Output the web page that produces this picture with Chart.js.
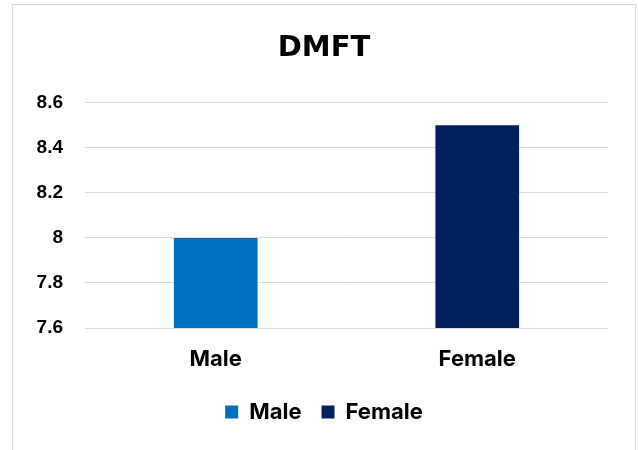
<!DOCTYPE html>
<html>
<head>
<meta charset="utf-8">
<script src="https://cdn.jsdelivr.net/npm/chart.js@4"></script>
<style>
  html, body { margin: 0; padding: 0; background: #fff; }
  #wrap { width: 638px; height: 450px; }
</style>
</head>
<body>
<div id="wrap"><canvas id="dmft-chart" width="638" height="450"></canvas></div>
<script>
// data
const categories = ["Male", "Female"];
const maleValues = [8, null];
const femaleValues = [null, 8.5];
const yTicks = [7.6, 7.8, 8, 8.2, 8.4, 8.6];

// frame round the chart, like the office export
const framePlugin = {
    id: "frame",
    beforeDraw(chart) {
        const ctx = chart.ctx;
        ctx.save();
        ctx.fillStyle = "#ffffff";
        ctx.fillRect(0, 0, chart.width, chart.height);
        ctx.strokeStyle = "#d9d9d9";
        ctx.lineWidth = 1;
        ctx.strokeRect(12.5, 4.5, 623, 470);
        ctx.restore();
    }
};

const labelFont = { family: "Inter, 'Noto Sans', sans-serif", size: 22, weight: "bold" };

const config = {
    type: "bar",
    data: {
        labels: categories,
        datasets: [
            {
                label: "Male",
                data: maleValues,
                backgroundColor: "#0070C0",
                skipNull: true,
            },
            {
                label: "Female",
                data: femaleValues,
                backgroundColor: "#002060",
                skipNull: true,
            },
        ],
    },
    options: {
        responsive: false,
        animation: false,
        layout: {
            padding: { left: 28, right: 18, top: 0, bottom: 17 }
        },
        datasets: {
            bar: {
                categoryPercentage: 1,
                barPercentage: 0.32,
            }
        },
        scales: {
            x: {
                grid: { display: false },
                border: { display: false },
                ticks: {
                    color: "#000",
                    padding: 10,
                    font: labelFont
                },
                afterFit(scale) { scale.height = 53; }
            },
            y: {
                min: 7.6,
                max: 8.6,
                afterBuildTicks(scale) {
                    scale.ticks = yTicks.map(v => ({ value: v }));
                },
                grid: { color: "#d9d9d9", lineWidth: 1, drawTicks: false },
                border: { display: false },
                ticks: {
                    color: "#000",
                    padding: 22,
                    font: { family: "'Liberation Sans', Arial, sans-serif", size: 19, weight: "bold" },
                    callback: function (value) {
                        return String(+value.toFixed(1));
                    }
                },
                afterFit(scale) { scale.width = 57; }
            },
            // empty right gutter so the title sits centred in the frame
            gutter: {
                type: "linear",
                position: "right",
                grid: { display: false },
                border: { display: false },
                ticks: { display: false },
                afterFit(scale) { scale.width = 12; }
            }
        },
        plugins: {
            title: {
                display: true,
                text: "DMFT",
                color: "#000",
                font: { family: "'DejaVu Sans', sans-serif", size: 29, weight: "bold" },
                padding: { top: 31, bottom: 37 }
            },
            legend: {
                position: "bottom",
                labels: {
                    color: "#000",
                    boxWidth: 13,
                    boxHeight: 13,
                    padding: 20,
                    font: labelFont
                }
            },
            tooltip: { enabled: false }
        }
    },
    plugins: [framePlugin]
};

new Chart(document.getElementById("dmft-chart"), config);
</script>
</body>
</html>
